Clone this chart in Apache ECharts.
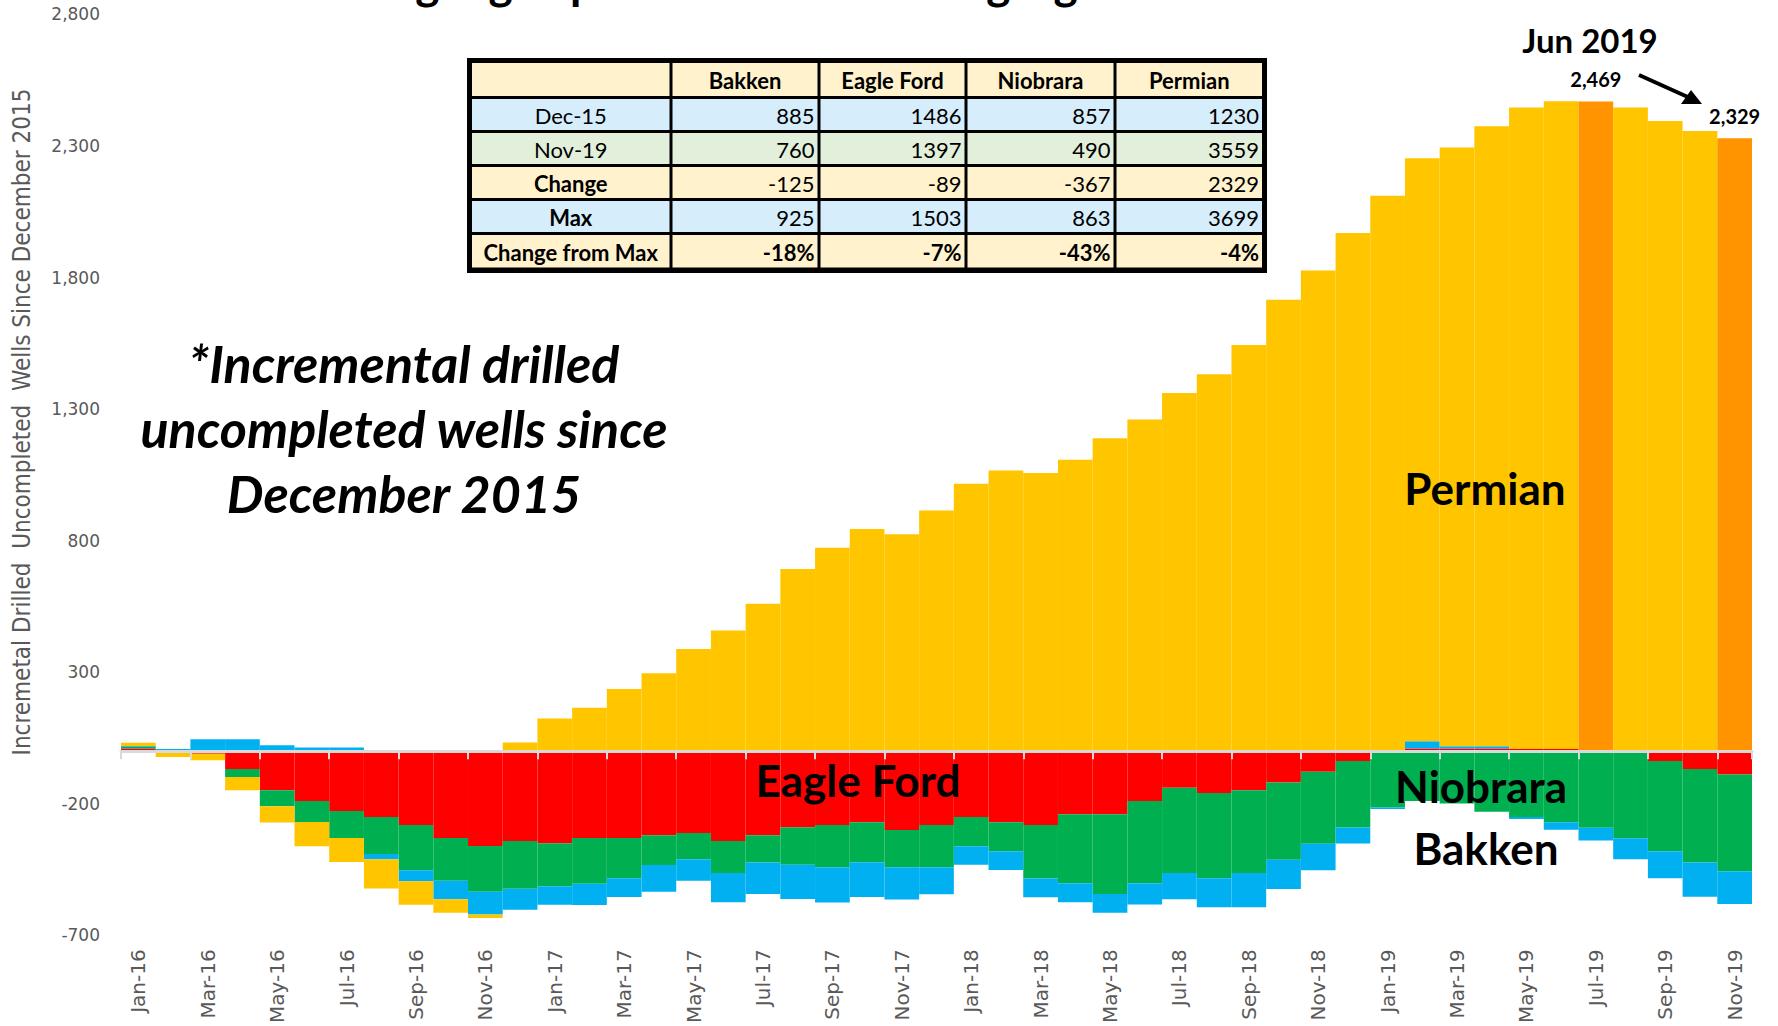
<!DOCTYPE html>
<html>
<head>
<meta charset="utf-8">
<script src="https://cdn.jsdelivr.net/npm/echarts@6/dist/echarts.min.js"></script>
<style>
html,body{margin:0;padding:0;background:#fff;}
#chart{width:1778px;height:1026px;}
</style>
</head>
<body>
<div id="chart"></div>
<script>
// ---------- DATA ----------
const months = ['Jan-16','Feb-16','Mar-16','Apr-16','May-16','Jun-16','Jul-16','Aug-16','Sep-16','Oct-16','Nov-16','Dec-16',
  'Jan-17','Feb-17','Mar-17','Apr-17','May-17','Jun-17','Jul-17','Aug-17','Sep-17','Oct-17','Nov-17','Dec-17',
  'Jan-18','Feb-18','Mar-18','Apr-18','May-18','Jun-18','Jul-18','Aug-18','Sep-18','Oct-18','Nov-18','Dec-18',
  'Jan-19','Feb-19','Mar-19','Apr-19','May-19','Jun-19','Jul-19','Aug-19','Sep-19','Oct-19','Nov-19'];

const eagleFord = [10,0,-10,-68,-149,-189,-227,-250,-281,-330,-360,-341,
  -350,-330,-330,-320,-311,-341,-320,-289,-281,-270,-300,-281,
  -250,-270,-281,-240,-240,-189,-139,-159,-149,-119,-78,-37,
  -3,10,10,10,8,8,0,0,-37,-68,-89];

const niobrara = [7,0,0,-30,-60,-80,-103,-141,-172,-163,-174,-182,
  -163,-174,-153,-113,-100,-122,-103,-143,-160,-152,-141,-160,
  -111,-110,-203,-262,-303,-313,-324,-324,-314,-294,-274,-253,
  -211,-189,-199,-230,-250,-270,-291,-331,-343,-355,-367];

const bakken = [3,8,45,45,22,14,14,-20,-41,-70,-87,-80,
  -71,-81,-71,-101,-82,-111,-120,-130,-134,-132,-123,-103,
  -71,-72,-71,-72,-71,-81,-100,-110,-130,-111,-101,-61,
  -6,28,9,9,-8,-29,-49,-80,-103,-130,-125];

const permian = [12,-22,-25,-51,-62,-92,-91,-111,-90,-51,-13,33,
  124,165,236,296,388,459,560,692,773,844,824,915,
  1016,1067,1057,1107,1189,1260,1361,1432,1544,1716,1827,1969,
  2111,2215,2275,2356,2438,2462,2469,2446,2395,2357,2329];

const highlightIdx = [42, 46];          // orange Permian bars with value labels

const yTicks = {min: -700, max: 2800, interval: 500};

const tableHeader = ['', 'Bakken', 'Eagle Ford', 'Niobrara', 'Permian'];
const tableRowLabels = ['Dec-15', 'Nov-19', 'Change', 'Max', 'Change from Max'];
const tableValues = [
  [885, 1486, 857, 1230],
  [760, 1397, 490, 3559],
  [-125, -89, -367, 2329],
  [925, 1503, 863, 3699],
  ['-18%', '-7%', '-43%', '-4%']
];

const titleText = 'Continuing high spreads with an easing significance of the trend';
const yAxisTitle = 'Incremetal Drilled  Uncompleted  Wells Since December 2015';
const noteLines = ['*Incremental drilled', 'uncompleted wells since', 'December 2015'];

// ---------- STYLE ----------
const C = {red:'#FF0000', green:'#00AF50', blue:'#00B0F0', yellow:'#FFC600', orange:'#FF9400'};
const FONT = 'Lato, "Open Sans", sans-serif';
const AXFONT = '"DejaVu Sans", Verdana, sans-serif';

const chart = echarts.init(document.getElementById('chart'), null, {renderer:'svg'});

const permianData = permian.map((v, i) => {
  if (highlightIdx.indexOf(i) >= 0) {
    return {value: v, itemStyle: {color: C.orange},
      label: {show: true, position: 'top', distance: 12, fontFamily: FONT, fontWeight: 'bold', fontSize: 20, color: '#000',
        formatter: p => Number(p.value).toLocaleString('en-US')}};
  }
  return v;
});

function barSeries(name, data, color) {
  return {name, type: 'bar', stack: 'all', data, barCategoryGap: '0%', itemStyle: {color}, xAxisIndex: 0, yAxisIndex: 0, z: 2};
}

// ---- table graphic ----
const tX = [472, 671, 819, 966, 1115, 1262];
const tY = [63, 97.5, 131.5, 165.6, 199.6, 233.6, 267.5];
const rowFill = ['#FFF2CC', '#D6EEFC', '#E2EFDA', '#FFF2CC', '#D6EEFC', '#FFF2CC'];
const tableEls = [{type: 'rect', shape: {x: 467, y: 58, width: 800, height: 215}, style: {fill: '#000'}}];
const allRows = [tableHeader].concat(tableRowLabels.map((l, r) => [l].concat(tableValues[r])));
allRows.forEach((row, r) => {
  row.forEach((cell, c) => {
    const x0 = tX[c] + (c > 0 ? 1.5 : 0), x1 = tX[c + 1] - (c < 4 ? 1.5 : 0);
    const y0 = tY[r] + (r > 0 ? 1.5 : 0), y1 = tY[r + 1] - (r < 5 ? 1.5 : 0);
    tableEls.push({type: 'rect', shape: {x: x0, y: y0, width: x1 - x0, height: y1 - y0}, style: {fill: rowFill[r]}});
    const bold = (r === 0) || (c === 0 && r >= 3) || (r === 5);
    const centered = (c === 0) || (r === 0);
    tableEls.push({type: 'text', x: centered ? (x0 + x1) / 2 : x1 - 3, y: (y0 + y1) / 2 + 1,
      style: {text: String(cell), fontFamily: FONT, fontSize: 22, fontWeight: bold ? 'bold' : 'normal', fill: '#000',
        textAlign: centered ? 'center' : 'right', textVerticalAlign: 'middle'}, z: 10});
  });
});

const annEls = [
  {type: 'text', x: 864, y: 4, style: {text: titleText, fontFamily: FONT, fontSize: 46, fontWeight: 'bold', fill: '#000', textAlign: 'center', textVerticalAlign: 'bottom'}},
  {type: 'text', x: 22, y: 422, rotation: Math.PI / 2, style: {text: yAxisTitle, fontFamily: '"Liberation Sans Narrow", "DejaVu Sans Condensed", sans-serif', fontSize: 24, fill: '#595959', textAlign: 'center', textVerticalAlign: 'middle'}},
  {type: 'text', x: 1485, y: 488, style: {text: 'Permian', fontFamily: FONT, fontSize: 44, fontWeight: 'bold', fill: '#000', textAlign: 'center', textVerticalAlign: 'middle'}, z: 20},
  {type: 'text', x: 858, y: 780, style: {text: 'Eagle Ford', fontFamily: FONT, fontSize: 44, fontWeight: 'bold', fill: '#000', textAlign: 'center', textVerticalAlign: 'middle'}, z: 20},
  {type: 'text', x: 1481, y: 786, style: {text: 'Niobrara', fontFamily: FONT, fontSize: 44, fontWeight: 'bold', fill: '#000', textAlign: 'center', textVerticalAlign: 'middle'}, z: 20},
  {type: 'text', x: 1486, y: 848, style: {text: 'Bakken', fontFamily: FONT, fontSize: 44, fontWeight: 'bold', fill: '#000', textAlign: 'center', textVerticalAlign: 'middle'}, z: 20},
  {type: 'text', x: 1590, y: 40, style: {text: 'Jun 2019', fontFamily: FONT, fontSize: 33, fontWeight: 'bold', fill: '#000', textAlign: 'center', textVerticalAlign: 'middle'}, z: 20},
  {type: 'line', shape: {x1: 1639, y1: 75, x2: 1690, y2: 98}, style: {stroke: '#000', lineWidth: 4}, z: 20},
  {type: 'polygon', shape: {points: [[1702, 104], [1681, 104], [1691, 90]]}, style: {fill: '#000'}, z: 20}
];
noteLines.forEach((t, i) => {
  annEls.push({type: 'text', x: 404, y: 363 + i * 65, style: {text: t, fontFamily: FONT, fontSize: 52, fontWeight: 'bold', fontStyle: 'italic', fill: '#000', textAlign: 'center', textVerticalAlign: 'middle'}, z: 20});
});

const option = {
  animation: false,
  backgroundColor: '#fff',
  grid: {left: 121, right: 26, top: 14.4, bottom: 90.6, containLabel: false},
  xAxis: [
    {type: 'category', data: months, position: 'bottom',
      axisLine: {show: false, onZero: false}, axisTick: {show: false},
      axisLabel: {rotate: 90, interval: 1, margin: 14, fontSize: 20, color: '#595959', fontFamily: AXFONT}},
    {type: 'category', data: months, position: 'top', z: 10,
      axisLine: {show: true, onZero: true, lineStyle: {color: '#D9D9D9', width: 3}},
      axisTick: {show: true, inside: true, interval: 1, length: 8, lineStyle: {color: '#D9D9D9', width: 2}},
      axisLabel: {show: false}}
  ],
  yAxis: {type: 'value', min: yTicks.min, max: yTicks.max, interval: yTicks.interval,
    splitLine: {show: false}, axisLine: {show: false}, axisTick: {show: false},
    axisLabel: {margin: 21, fontSize: 17, color: '#595959', fontFamily: AXFONT, formatter: v => v.toLocaleString('en-US')}},
  series: [
    barSeries('Eagle Ford', eagleFord, C.red),
    barSeries('Niobrara', niobrara, C.green),
    barSeries('Bakken', bakken, C.blue),
    barSeries('Permian', permianData, C.yellow)
  ],
  graphic: tableEls.concat(annEls)
};
chart.setOption(option);
</script>
</body>
</html>
